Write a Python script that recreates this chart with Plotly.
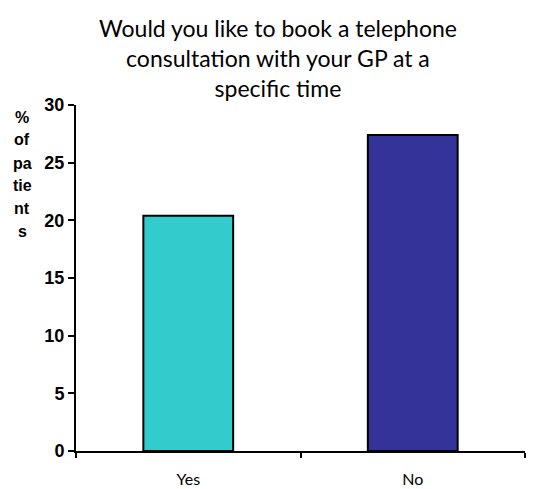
import plotly.graph_objects as go

# Survey answers and share of patients (%)
categories = ["Yes", "No"]
percent = [20.4, 27.4]
bar_colors = ["#33CCCC", "#333399"]
y_ticks = [0, 5, 10, 15, 20, 25, 30]

title_text = "Would you like to book a telephone<br>consultation with your GP at a<br>specific time"
y_title_lines = ["%", "of", "pa", "tie", "nt", "s"]

PLOT_TOP, PLOT_BOTTOM = 105, 451
PLOT_LEFT, PLOT_RIGHT = 76, 525
plot_h = PLOT_BOTTOM - PLOT_TOP
plot_w = PLOT_RIGHT - PLOT_LEFT

fig = go.Figure(
    go.Bar(
        x=categories,
        y=percent,
        marker=dict(color=bar_colors, line=dict(color="black", width=2)),
        width=0.4,
        hoverinfo="x+y",
    )
)

fig.update_layout(
    width=549,
    height=489,
    margin=dict(l=PLOT_LEFT, r=549 - PLOT_RIGHT, t=PLOT_TOP, b=489 - PLOT_BOTTOM),
    paper_bgcolor="white",
    plot_bgcolor="white",
    showlegend=False,
)

# Chart heading, three centred lines above the plot
fig.add_annotation(
    text=title_text,
    xref="paper",
    yref="paper",
    x=(277.5 - PLOT_LEFT) / plot_w,
    y=(PLOT_BOTTOM - 58) / plot_h,
    xanchor="center",
    yanchor="middle",
    showarrow=False,
    align="center",
    font=dict(family="Lato, Open Sans, sans-serif", size=23, color="black"),
)

fig.update_xaxes(
    type="category",
    automargin=False,
    showline=True,
    linecolor="black",
    linewidth=2,
    ticks="outside",
    tickson="boundaries",
    ticklen=5,
    tickwidth=2,
    tickcolor="black",
    showgrid=False,
    ticklabelstandoff=13,
    tickfont=dict(family="Lato, Open Sans, sans-serif", size=16, color="black"),
)

fig.update_yaxes(
    range=[0, 30],
    automargin=False,
    tickvals=y_ticks,
    showline=True,
    linecolor="black",
    linewidth=2,
    ticks="outside",
    ticklen=6,
    tickwidth=2,
    tickcolor="black",
    showgrid=False,
    zeroline=False,
    tickfont=dict(family="Arial, Liberation Sans, sans-serif", size=18,
                  color="black", weight="bold"),
)

# Axis caption broken into short stacked fragments
caption_y = [117, 139, 163, 185, 208, 231]
for line, yc in zip(y_title_lines, caption_y):
    fig.add_annotation(
        text="<b>" + line + "</b>",
        xref="paper",
        yref="paper",
        x=(22 - PLOT_LEFT) / plot_w,
        y=(PLOT_BOTTOM - yc) / plot_h,
        xanchor="center",
        yanchor="middle",
        showarrow=False,
        font=dict(family="Arial, Liberation Sans, sans-serif", size=16, color="black"),
    )

fig.write_html("out.html")
